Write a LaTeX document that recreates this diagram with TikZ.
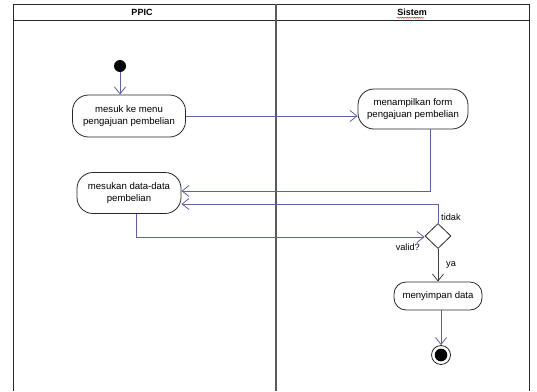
\documentclass[tikz,border=0pt]{standalone}
\usepackage{fontspec}
\setmainfont{Liberation Sans}
\usetikzlibrary{arrows.meta,shapes.geometric,decorations.pathmorphing}
\definecolor{flow}{RGB}{96,96,168}
\definecolor{frameC}{RGB}{40,40,40}
\begin{document}
\begin{tikzpicture}[x=1pt,y=-1pt,
  act/.style={draw=frameC,line width=0.8pt,rounded corners=16pt,align=center,
    inner sep=0pt,font=\fontsize{9.6}{12}\selectfont},
  flowline/.style={draw=flow,line width=0.8pt},
  arr/.style={-{Straight Barb[length=7pt,width=11pt]}},
  lbl/.style={font=\fontsize{9.2}{11}\selectfont,inner sep=0pt},
  head/.style={font=\fontsize{9}{10}\selectfont\bfseries,inner sep=0pt},
  lane/.style={draw=frameC,line width=0.9pt}]
\useasboundingbox (0,0) rectangle (537,391);
\fill[white] (0,0) rectangle (537,391);
% frame
\draw[lane] (13,391) -- (13,4) -- (529,4) -- (529,391);
\draw[lane] (13,20) -- (529,20);
\draw[lane,draw=black!65,line width=1.1pt] (276,4) -- (276,391);
\node[head] (hppic) at (142,12) {PPIC};
\node[head] (hsis) at (412,12) {Sistem};
\draw[red!80!black,line width=0.4pt,decorate,decoration={snake,amplitude=0.6pt,segment length=2.4pt}]
  (hsis.south west) ++(0,2.2) -- ++(27,0);
% nodes
\node[circle,fill=black,minimum size=12pt,inner sep=0pt] (start) at (120,66) {};
\node[act,minimum width=113pt,minimum height=42pt] (a1) at (129,116) {mesuk ke menu\\pengajuan pembelian};
\node[act,minimum width=110pt,minimum height=40pt] (a2) at (413,109) {menampilkan form\\pengajuan pembelian};
\node[act,minimum width=104pt,minimum height=41pt] (a3) at (129,193) {mesukan data-data\\pembelian};
\node[diamond,draw=frameC,line width=0.8pt,minimum width=26pt,minimum height=25pt,inner sep=0pt] (dec) at (438,236) {};
\node[act,rounded corners=12pt,minimum width=88pt,minimum height=28pt] (a4) at (438,296) {menyimpan data};
\node[circle,draw=frameC,line width=0.8pt,minimum size=19pt,inner sep=0pt] (end) at (441,355) {};
\fill[black] (end.center) circle (6.3pt);
% labels
\node[lbl,anchor=west] (ltidak) at (441,217) {tidak};
\node[lbl,anchor=east] (lvalid) at (420,247) {valid?};
\node[lbl,anchor=west] (lya) at (446,265) {ya};
% connectors
\draw[flowline,arr] (start) -- (start |- a1.north);
\draw[flowline,arr] (a1.east) -- (a1.east -| a2.west);
\coordinate (c2) at (430,191);
\draw[flowline,arr] (a2.south -| c2) -- (c2) -- (c2 -| a3.east);
\coordinate (c3) at (438,204);
\draw[flowline,arr] (dec.north) -- (c3) -- (c3 -| a3.east);
\coordinate (c4) at (136,237);
\draw[flowline,arr] (a3.south -| c4) -- (c4) -- (c4 -| dec.west);
\draw[draw=black!75,line width=0.8pt,arr] (dec.south) -- (a4.north);
\draw[flowline,arr] (a4.south -| end) -- (end.north);
\end{tikzpicture}
\end{document}
